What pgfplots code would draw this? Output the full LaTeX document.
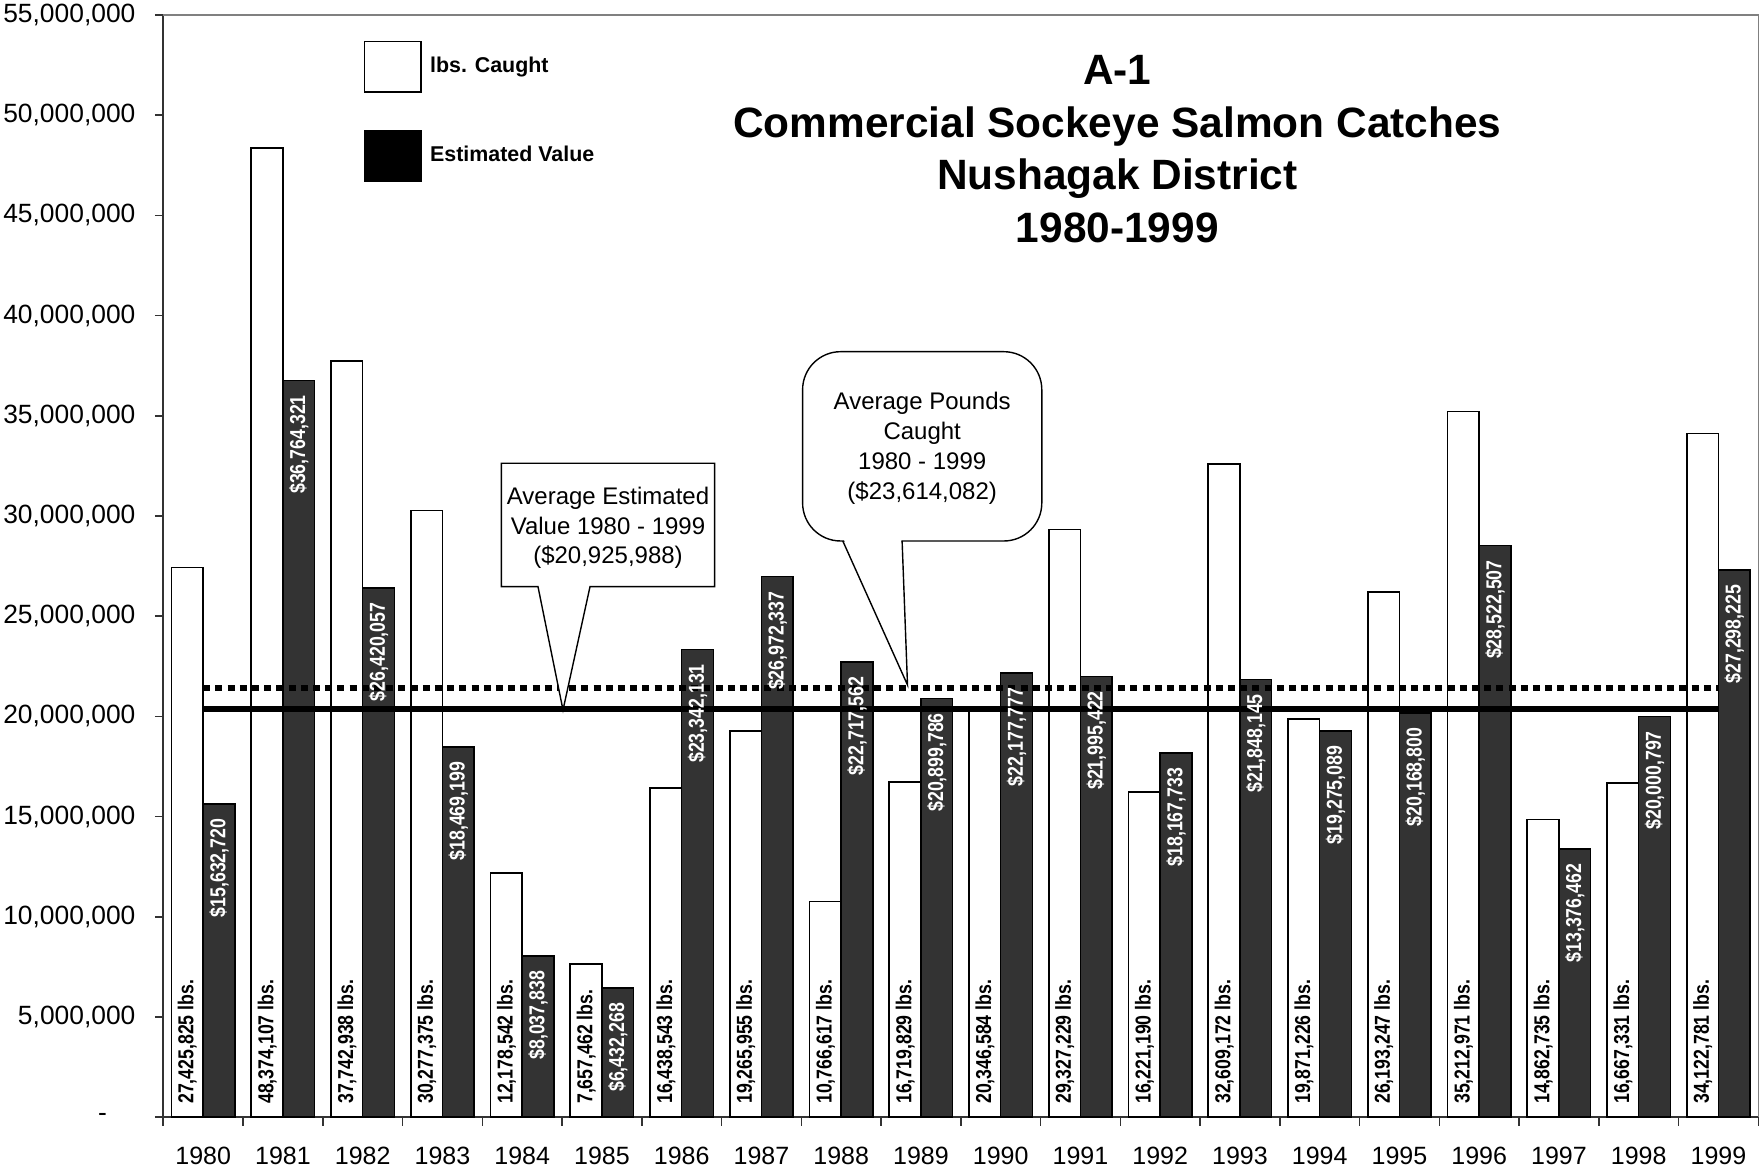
\documentclass[border=0pt]{standalone}
\usepackage{fontspec}
\setmainfont{Liberation Sans}
\newfontfamily\lblfont[FakeStretch=0.82]{Liberation Sans}
\usepackage{pgfplots}
\usepackage{pgfplotstable}
\pgfplotsset{compat=1.18}
\definecolor{bardark}{HTML}{333333}

\pgfplotstableread[col sep=semicolon]{
x;lbs;val;lbslab;vallab
0;27425825;15632720;27,425,825;15,632,720
1;48374107;36764321;48,374,107;36,764,321
2;37742938;26420057;37,742,938;26,420,057
3;30277375;18469199;30,277,375;18,469,199
4;12178542;8037838;12,178,542;8,037,838
5;7657462;6432268;7,657,462;6,432,268
6;16438543;23342131;16,438,543;23,342,131
7;19265955;26972337;19,265,955;26,972,337
8;10766617;22717562;10,766,617;22,717,562
9;16719829;20899786;16,719,829;20,899,786
10;20346584;22177777;20,346,584;22,177,777
11;29327229;21995422;29,327,229;21,995,422
12;16221190;18167733;16,221,190;18,167,733
13;32609172;21848145;32,609,172;21,848,145
14;19871226;19275089;19,871,226;19,275,089
15;26193247;20168800;26,193,247;20,168,800
16;35212971;28522507;35,212,971;28,522,507
17;14862735;13376462;14,862,735;13,376,462
18;16667331;20000797;16,667,331;20,000,797
19;34122781;27298225;34,122,781;27,298,225
}\datatable

\begin{document}
\begin{tikzpicture}
\useasboundingbox (-81.65pt,-26.9pt) rectangle (797.85pt,558.6pt);
\begin{axis}[
  at={(0,0)}, anchor=south west,
  scale only axis, width=797.5pt, height=551.1pt,
  xmin=-0.5, xmax=19.5, ymin=0, ymax=55000000,
  enlargelimits=false,
  ybar,
  axis lines*=left,
  axis line style={-, black!80, line width=0.8pt},
  tick align=outside,
  major tick length=4.2pt,
  minor tick length=4.2pt,
  xtick={0,1,2,3,4,5,6,7,8,9,10,11,12,13,14,15,16,17,18,19},
  xticklabels={1980,1981,1982,1983,1984,1985,1986,1987,1988,1989,1990,1991,1992,1993,1994,1995,1996,1997,1998,1999},
  minor xtick={-0.5,0.5,1.5,2.5,3.5,4.5,5.5,6.5,7.5,8.5,9.5,10.5,11.5,12.5,13.5,14.5,15.5,16.5,17.5,18.5,19.5},
  major x tick style={draw=none},
  minor x tick style={black!80, line width=0.8pt},
  y tick style={black!80, line width=0.8pt},
  ytick={0,5000000,10000000,15000000,20000000,25000000,30000000,35000000,40000000,45000000,50000000,55000000},
  yticklabels={{-\hspace*{14.3pt}},{5,000,000},{10,000,000},{15,000,000},{20,000,000},{25,000,000},{30,000,000},{35,000,000},{40,000,000},{45,000,000},{50,000,000},{55,000,000}},
  scaled y ticks=false,
  xticklabel style={font=\fontsize{12.5}{14}\selectfont, yshift=-7pt},
  yticklabel style={font=\fontsize{13.2}{15}\selectfont, xshift=-6.2pt},
]
\addplot[fill=white, draw=black, line width=0.8pt, bar width=0.397, bar shift=-0.1985]
  table[x=x, y=lbs] {\datatable};
\addplot[fill=bardark, draw=black, line width=0.8pt, bar width=0.397, bar shift=0.1985,
  point meta=explicit symbolic, nodes near coords={\$\pgfplotspointmeta},
  every node near coord/.append style={rotate=90, anchor=east, inner xsep=7pt, inner ysep=0pt, text=white, font=\lblfont\bfseries\fontsize{10.8}{12}\selectfont}]
  table[x=x, y=val, meta=vallab] {\datatable};
\addplot[draw=none, fill=none, bar width=0.397, bar shift=-0.1985,
  point meta=explicit symbolic, nodes near coords={\pgfplotspointmeta\ lbs.},
  every node near coord/.append style={rotate=90, anchor=west, inner xsep=6.5pt, inner ysep=0pt, text=black, font=\lblfont\bfseries\fontsize{10.8}{12}\selectfont}]
  table[x=x, y expr=0, meta=lbslab] {\datatable};
\addplot[sharp plot, black, line width=3.1pt, dash pattern=on 3.5pt off 2.6pt]
  coordinates {(0,21430000) (19,21430000)};
\addplot[sharp plot, black, line width=3.3pt]
  coordinates {(0,20370000) (19,20370000)};
\end{axis}
% plot area border (top, right)
\draw[gray, line width=0.8pt] (0,551.1pt) -- (797.5pt,551.1pt) -- (797.5pt,0);
% legend
\draw[black, line width=0.8pt, fill=white] (100.65pt,512.6pt) rectangle (128.7pt,537.85pt);
\draw[black, line width=0.8pt, fill=black] (100.65pt,467.75pt) rectangle (128.7pt,492.95pt);
\node[anchor=west, inner sep=0pt, font=\bfseries\fontsize{10.7}{12}\selectfont] at (133.2pt,525.3pt) {lbs. Caught};
\node[anchor=west, inner sep=0pt, font=\bfseries\fontsize{10.7}{12}\selectfont] at (133.2pt,481.5pt) {Estimated Value};
% title
\node[anchor=north, align=center, inner sep=0pt, font=\bfseries\fontsize{21.2}{26.4}\selectfont] at (477pt,531.2pt) {A-1\\Commercial Sockeye Salmon Catches\\Nushagak District\\1980-1999};
% callout 1
\draw[fill=white, line width=0.7pt] (169.05pt,326.95pt) -- (275.65pt,326.95pt) -- (275.65pt,265.25pt) -- (213.35pt,265.25pt) -- (199.85pt,203.6pt) -- (187.35pt,265.25pt) -- (169.05pt,265.25pt) -- cycle;
\node[align=center, inner sep=0pt, font=\fontsize{12}{14.6}\selectfont] at (222.35pt,294.6pt) {Average Estimated\\Value 1980 - 1999\\(\$20,925,988)};
% callout 2
\draw[fill=white, line width=0.7pt, rounded corners=19pt] (319.65pt,288.1pt) rectangle (439.25pt,382.75pt);
\fill[white] (340.3pt,288.8pt) -- (372.1pt,216.1pt) -- (369.0pt,288.8pt) -- cycle;
\draw[line width=0.7pt] (339.75pt,288.1pt) -- (372.1pt,216.1pt) -- (369.4pt,288.1pt);
\node[align=center, inner sep=0pt, font=\fontsize{12}{15}\selectfont] at (379.45pt,334.4pt) {Average Pounds\\Caught\\1980 - 1999\\(\$23,614,082)};
\end{tikzpicture}
\end{document}
